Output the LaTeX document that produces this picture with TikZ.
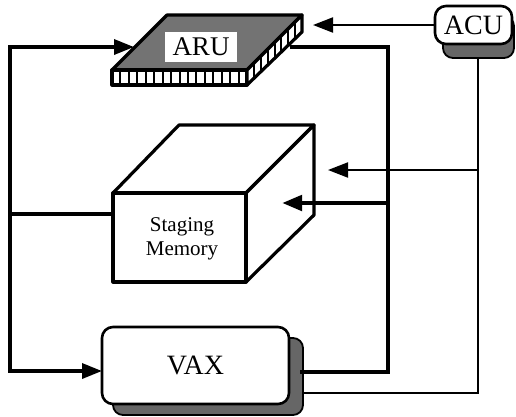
\documentclass[tikz,border=0pt]{standalone}
\usepackage{fontspec}
\setmainfont{Liberation Serif}
\usetikzlibrary{arrows.meta}
\begin{document}
\begin{tikzpicture}[x=1pt,y=-1pt,
  thickline/.style={line width=4.6pt},
  medline/.style={line width=3.4pt},
  thinline/.style={line width=2pt},
  tipbig/.style={-{Triangle[length=20pt,width=15pt]}},
  outline/.style={line width=3.2pt, line join=round},
  stipple/.style={fill=black!55},
  shadowbox/.style={fill=black!60, draw=black, line width=1.8pt, rounded corners=10pt},
  boxnode/.style={draw, line width=2.6pt, fill=white, rounded corners=11pt, inner sep=0pt}
]
\useasboundingbox (0,0) rectangle (516,416);

% ---------- ARU chip ----------
\filldraw[stipple, draw=black, outline] (112,70) -- (167,15) -- (302,15) -- (247,70) -- cycle;
\filldraw[fill=white, draw=black, outline] (112,70) rectangle (247,85);
\foreach \i in {1,...,15} {
  \draw[line width=2pt] ({112+\i*135/16},70) -- ({112+\i*135/16},85);
}
\filldraw[fill=white, draw=black, outline] (247,70) -- (302,15) -- (302,32) -- (247,85) -- cycle;
\foreach \i in {1,...,7} {
  \draw[line width=2pt] ({247+\i*55/8},{70-\i*55/8}) -- ({247+\i*55/8},{85-\i*53/8});
}
\node[fill=white, minimum width=72pt, minimum height=30pt, inner sep=0pt,
      font=\fontsize{27}{29}\selectfont] (aru) at (201,47) {ARU};
\coordinate (aruL) at (134,47);
\coordinate (aruR) at (290,47);
\coordinate (aruT) at (313,25);

% ---------- ACU ----------
\fill[shadowbox] (443,16) rectangle (514,58);
\node[boxnode, minimum width=77pt, minimum height=38pt,
      font=\fontsize{28}{30}\selectfont] (acu) at (473.5,25) {ACU};
\coordinate (acuB) at (478,58);

% ---------- Staging memory cube ----------
\filldraw[fill=white, draw=black, outline] (113,193) -- (179,125) -- (314,125) -- (246,193) -- cycle;
\filldraw[fill=white, draw=black, outline] (246,193) -- (314,125) -- (314,215) -- (246,282) -- cycle;
\filldraw[fill=white, draw=black, outline] (113,193) rectangle (246,282);
\node[align=center, font=\fontsize{21}{24}\selectfont] (sm) at (182,239) {Staging\\Memory};
\coordinate (smL) at (113,214);
\coordinate (smThin) at (328,170);
\coordinate (smThick) at (282,203);

% ---------- VAX ----------
\fill[shadowbox] (113,338) rectangle (303,415);
\node[boxnode, minimum width=187pt, minimum height=77pt,
      font=\fontsize{28}{30}\selectfont] (vax) at (195.5,365.5) {\raisebox{-3pt}{VAX}};
\coordinate (vaxIn) at (102,371);
\coordinate (vaxOut) at (300,372);
\coordinate (vaxOut2) at (303,393);

% ---------- bus corners ----------
\coordinate (lt) at (10,47);
\coordinate (lb) at (10,371);
\coordinate (lm) at (10,214);
\coordinate (rt) at (388,47);
\coordinate (rb) at (388,372);
\coordinate (rm) at (388,203);
\coordinate (ct) at (478,170);
\coordinate (cb) at (478,393);

% left bus
\draw[medline, line cap=rect] (lt) -- (lb);
\draw[medline, tipbig] (lt) -- (aruL);
\draw[medline, tipbig] (lb) -- (vaxIn);
\draw[thickline] (smL) -- (lm);

% right thick bus
\draw[thickline, line join=miter] (vaxOut) -- (rb) -- (rt) -- (aruR);
\draw[thickline, tipbig] (rm) -- (smThick);

% thin ACU bus
\draw[thinline, tipbig] (acu.west |- aruT) -- (aruT);
\draw[thinline, line join=miter] (acuB) -- (cb) -- (vaxOut2);
\draw[thinline, tipbig] (ct) -- (smThin);
\end{tikzpicture}
\end{document}
